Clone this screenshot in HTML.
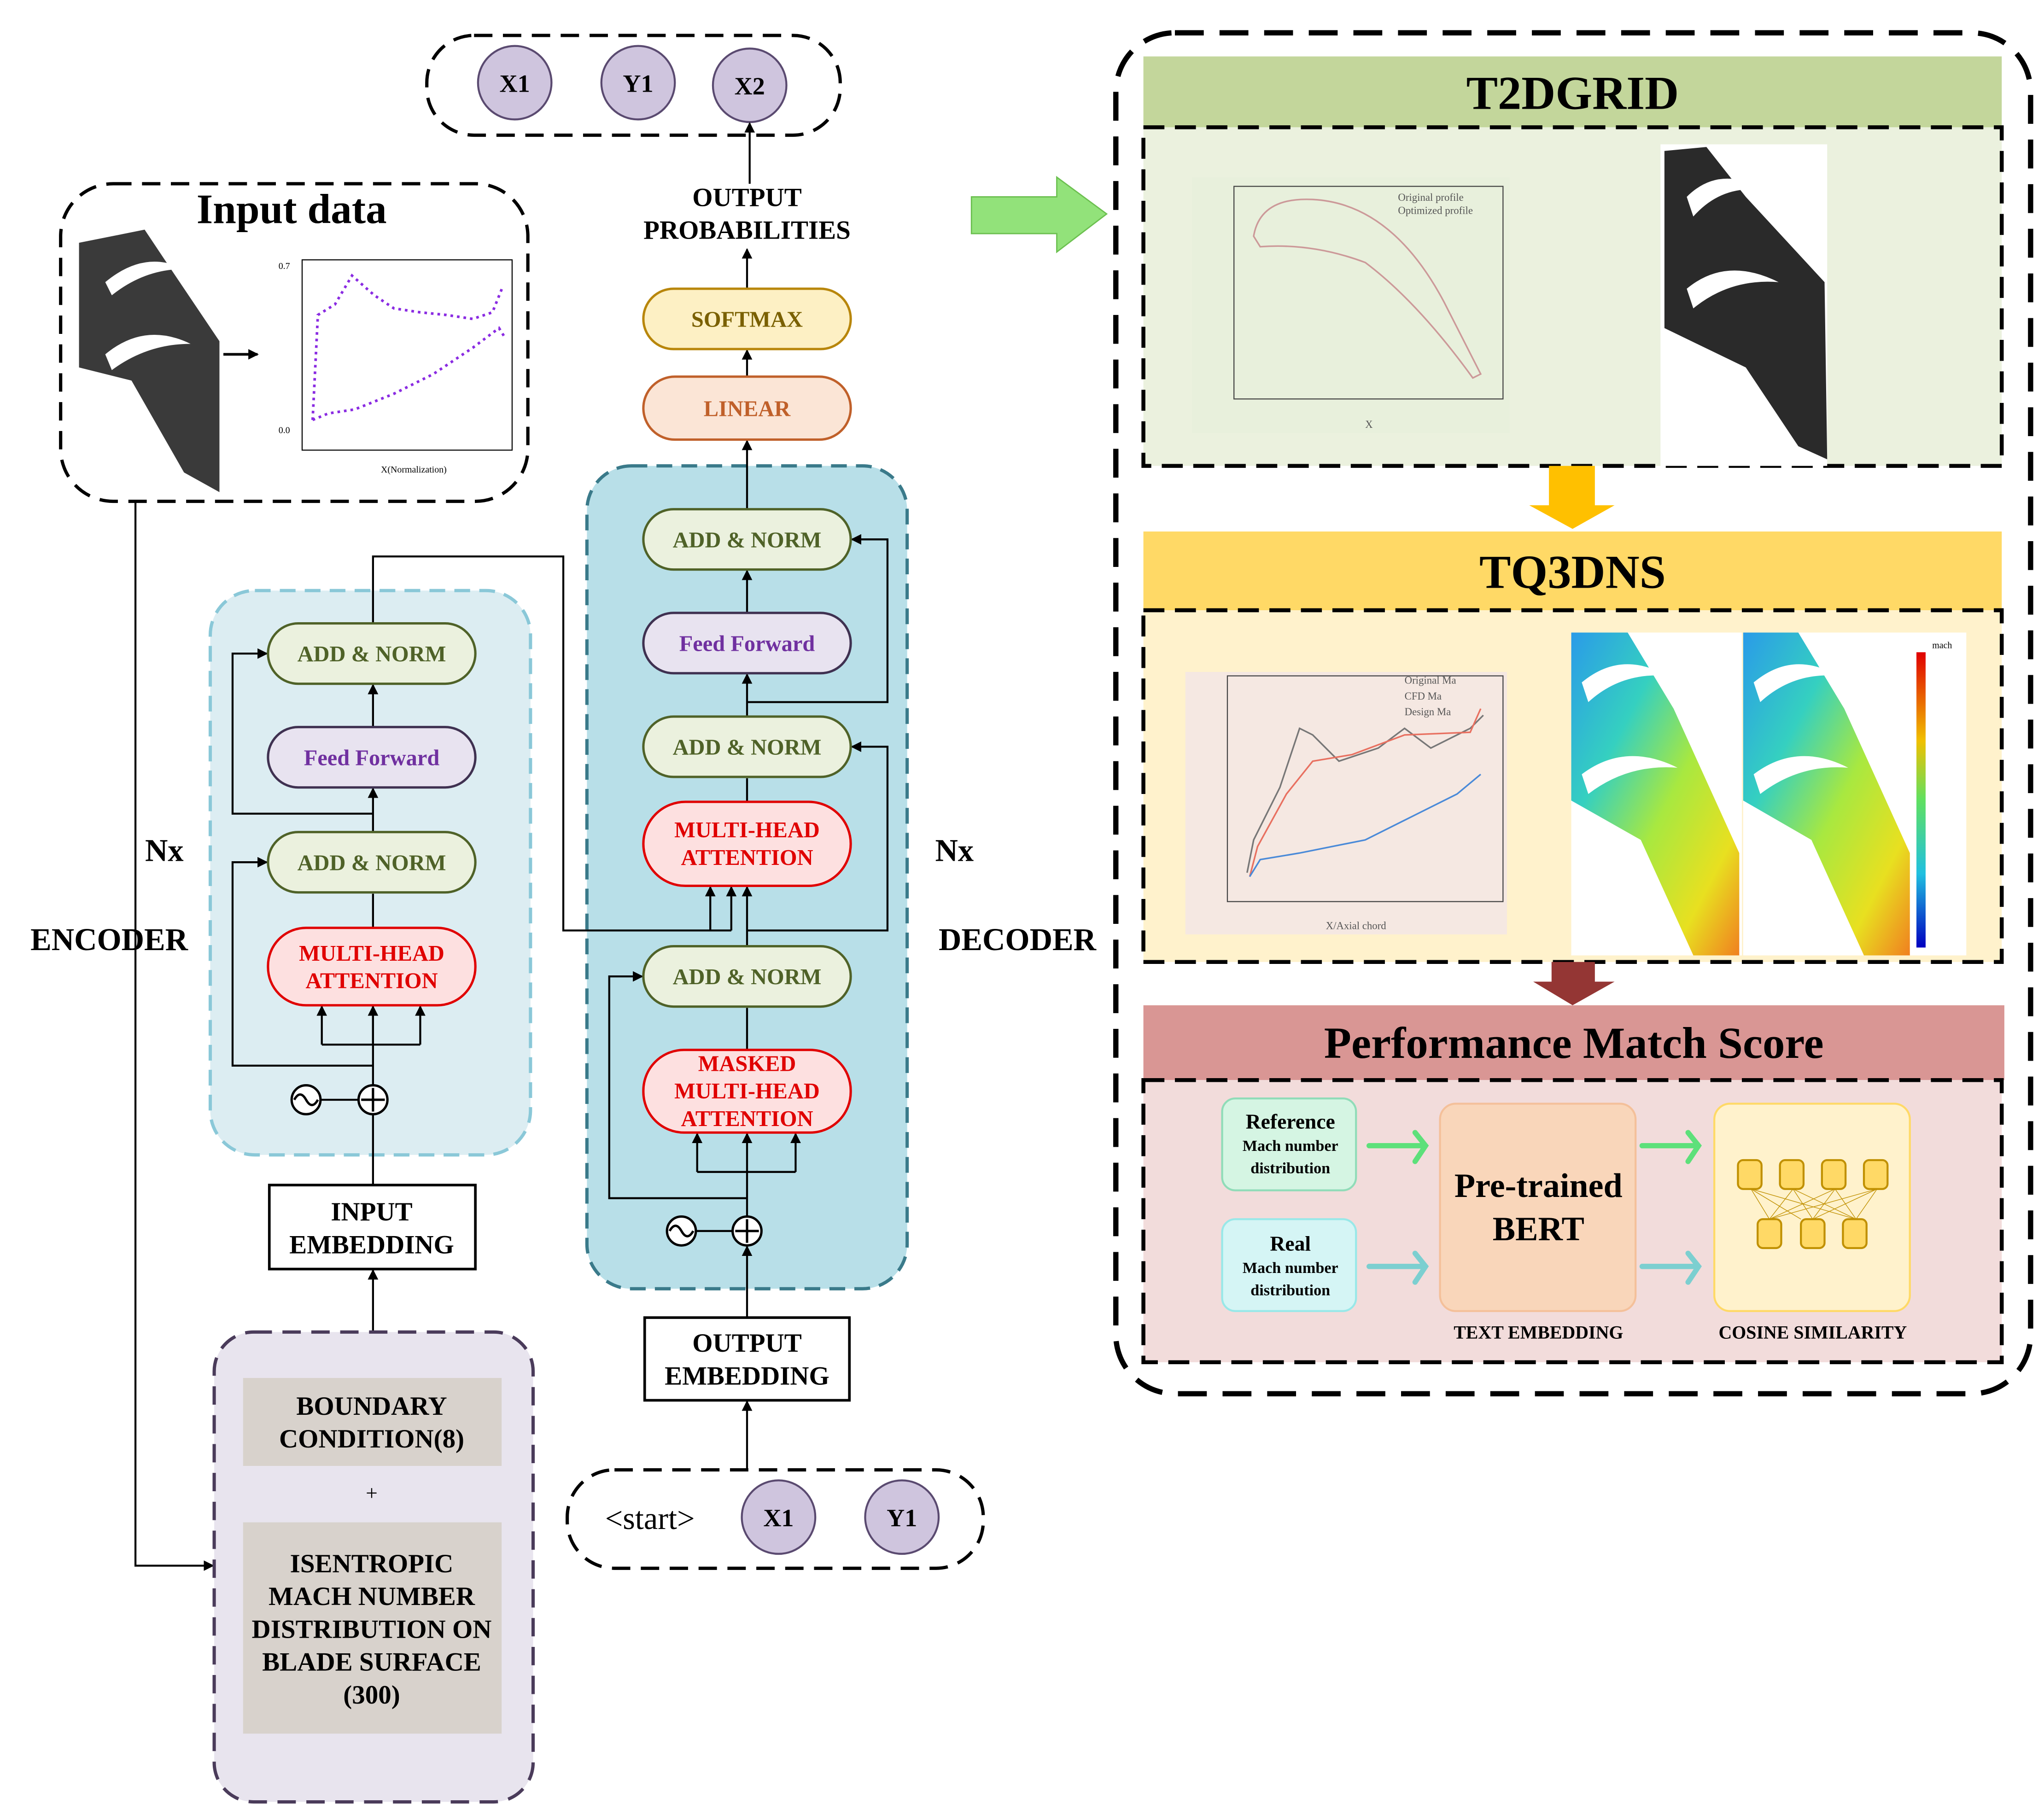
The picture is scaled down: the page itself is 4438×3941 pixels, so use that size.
<!DOCTYPE html>
<html><head><meta charset="utf-8"><style>
html,body{margin:0;padding:0;background:#fff;}
svg{display:block;}
text{font-family:"Liberation Serif",serif;}
</style></head><body>
<svg width="4438" height="3941" viewBox="0 0 1557 1383" xmlns="http://www.w3.org/2000/svg">
<defs>
<marker id="ar" markerWidth="8" markerHeight="8" refX="7" refY="4" orient="auto" markerUnits="userSpaceOnUse"><path d="M0,0 L8,4 L0,8 z" fill="#000"/></marker>
<linearGradient id="cf" x1="0" y1="0" x2="1" y2="1"><stop offset="0" stop-color="#2a9be8"/><stop offset="0.3" stop-color="#35d0c0"/><stop offset="0.55" stop-color="#a8e840"/><stop offset="0.8" stop-color="#e8e020"/><stop offset="1" stop-color="#f08020"/></linearGradient>
<linearGradient id="cb" x1="0" y1="0" x2="0" y2="1"><stop offset="0" stop-color="#e00000"/><stop offset="0.3" stop-color="#f0c000"/><stop offset="0.5" stop-color="#60e060"/><stop offset="0.75" stop-color="#20c0e0"/><stop offset="1" stop-color="#0000c0"/></linearGradient>
</defs>
<rect width="1557" height="1383" fill="#fff"/>

<!-- top output box -->
<rect x="325" y="27" width="315" height="76" rx="36" fill="#fff" stroke="#000" stroke-width="2.5" stroke-dasharray="14,8"/>
<g fill="#cfc5de" stroke="#5a4a70" stroke-width="1.5">
<circle cx="392" cy="63" r="28"/><circle cx="486" cy="63" r="28"/><circle cx="571" cy="65" r="28"/></g>
<g font-weight="bold" font-size="19" text-anchor="middle"><text x="392" y="70">X1</text><text x="486" y="70">Y1</text><text x="571" y="72">X2</text></g>
<line x1="571" y1="140" x2="571" y2="94" stroke="#000" stroke-width="1.5" marker-end="url(#ar)"/>
<g font-weight="bold" font-size="20" text-anchor="middle"><text x="569" y="157">OUTPUT</text><text x="569" y="182">PROBABILITIES</text></g>
<line x1="569" y1="220" x2="569" y2="190" stroke="#000" stroke-width="1.5" marker-end="url(#ar)"/>

<!-- input data box -->
<rect x="46" y="140" width="356" height="242" rx="40" fill="#fff" stroke="#000" stroke-width="2.5" stroke-dasharray="14,8"/>
<text x="222" y="170" font-size="32" font-weight="bold" text-anchor="middle">Input data</text>
<polygon points="60,185 110,175 130,205 167,260 167,375 140,360 100,290 60,280" fill="#3a3a3a"/>
<path d="M80,215 Q110,190 140,205 Q110,205 85,225 z" fill="#fff"/>
<path d="M80,270 Q110,245 145,262 Q112,262 85,282 z" fill="#fff"/>
<line x1="170" y1="270" x2="196" y2="270" stroke="#000" stroke-width="2" marker-end="url(#ar)"/>
<g stroke="#000" stroke-width="0.8" fill="none"><rect x="230" y="198" width="160" height="145"/></g>
<g font-size="7" font-family="Liberation Sans,sans-serif"><text x="290" y="360">X(Normalization)</text><text x="212" y="205">0.7</text><text x="212" y="330">0.0</text></g>
<polyline points="238,320 242,240 255,232 268,210 285,225 300,235 320,238 340,240 360,243 375,238 383,218" fill="none" stroke="#8a2be2" stroke-width="2" stroke-dasharray="2,3"/>
<polyline points="238,320 250,315 270,312 300,300 330,285 360,265 380,250 385,258" fill="none" stroke="#8a2be2" stroke-width="2" stroke-dasharray="2,3"/>

<!-- encoder panel -->
<rect x="160" y="450" width="244" height="430" rx="34" fill="#dcedf2" stroke="#8ac8d8" stroke-width="2.5" stroke-dasharray="12,7"/>
<!-- decoder panel -->
<rect x="447" y="355" width="244" height="627" rx="34" fill="#b8dfe8" stroke="#3a7a8a" stroke-width="2.5" stroke-dasharray="12,7"/>

<!-- connectors encoder -->
<g stroke="#000" stroke-width="1.5" fill="none">
<line x1="284" y1="1015" x2="284" y2="968" marker-end="url(#ar)"/>
<line x1="284" y1="903" x2="284" y2="849"/>
<line x1="244" y1="838" x2="273" y2="838"/>
<line x1="284" y1="827" x2="284" y2="766"/>
<polyline points="245,796 320,796"/>
<line x1="245" y1="796" x2="245" y2="767" marker-end="url(#ar)"/>
<line x1="320" y1="796" x2="320" y2="767" marker-end="url(#ar)"/>
<line x1="284" y1="796" x2="284" y2="767" marker-end="url(#ar)"/>
<polyline points="284,812 177,812 177,657 203,657" marker-end="url(#ar)"/>
<line x1="284" y1="707" x2="284" y2="681"/>
<line x1="284" y1="634" x2="284" y2="601" marker-end="url(#ar)"/>
<line x1="284" y1="554" x2="284" y2="522" marker-end="url(#ar)"/>
<polyline points="284,620 177,620 177,498 203,498" marker-end="url(#ar)"/>
<polyline points="284,475 284,424 429,424 429,709 557,709"/>
<line x1="541" y1="709" x2="541" y2="676" marker-end="url(#ar)"/>
<line x1="557" y1="709" x2="557" y2="676" marker-end="url(#ar)"/>
<!-- decoder -->
<line x1="569" y1="1120" x2="569" y2="1068" marker-end="url(#ar)"/>
<line x1="569" y1="1004" x2="569" y2="950" marker-end="url(#ar)"/>
<line x1="530" y1="938" x2="558" y2="938"/>
<line x1="569" y1="927" x2="569" y2="864" marker-end="url(#ar)"/>
<polyline points="531,893 606,893"/>
<line x1="531" y1="893" x2="531" y2="864" marker-end="url(#ar)"/>
<line x1="606" y1="893" x2="606" y2="864" marker-end="url(#ar)"/>
<polyline points="569,913 464,913 464,744 489,744" marker-end="url(#ar)"/>
<line x1="569" y1="800" x2="569" y2="768"/>
<line x1="569" y1="721" x2="569" y2="676" marker-end="url(#ar)"/>
<polyline points="569,709 676,709 676,569 649,569" marker-end="url(#ar)"/>
<line x1="569" y1="611" x2="569" y2="593"/>
<line x1="569" y1="546" x2="569" y2="514" marker-end="url(#ar)"/>
<line x1="569" y1="467" x2="569" y2="435" marker-end="url(#ar)"/>
<polyline points="569,535 676,535 676,411 649,411" marker-end="url(#ar)"/>
<line x1="569" y1="388" x2="569" y2="336" marker-end="url(#ar)"/>
<line x1="569" y1="287" x2="569" y2="267" marker-end="url(#ar)"/>
<polyline points="103,382 103,1193 162,1193" marker-end="url(#ar)"/>
</g>
<!-- sine/plus -->
<g fill="#fff" stroke="#000" stroke-width="1.8">
<circle cx="233" cy="838" r="11"/><circle cx="284" cy="838" r="11"/>
<circle cx="519" cy="938" r="11"/><circle cx="569" cy="938" r="11"/></g>
<g stroke="#000" stroke-width="1.8" fill="none">
<path d="M224,838 q4.5,-8 9,0 q4.5,8 9,0"/><path d="M284,829 v18 M275,838 h18"/>
<path d="M510,938 q4.5,-8 9,0 q4.5,8 9,0"/><path d="M569,929 v18 M560,938 h18"/></g>

<!-- nodes -->
<g stroke-width="1.8">
<rect x="204" y="475" width="158" height="46" rx="23" fill="#ebf1de" stroke="#4f6228"/>
<rect x="204" y="634" width="158" height="46" rx="23" fill="#ebf1de" stroke="#4f6228"/>
<rect x="204" y="554" width="158" height="46" rx="23" fill="#e8e3f0" stroke="#3f3151"/>
<rect x="204" y="707" width="158" height="59" rx="29" fill="#fde0e0" stroke="#e00000"/>
<rect x="490" y="388" width="158" height="46" rx="23" fill="#ebf1de" stroke="#4f6228"/>
<rect x="490" y="546" width="158" height="46" rx="23" fill="#ebf1de" stroke="#4f6228"/>
<rect x="490" y="721" width="158" height="46" rx="23" fill="#ebf1de" stroke="#4f6228"/>
<rect x="490" y="467" width="158" height="46" rx="23" fill="#e8e3f0" stroke="#3f3151"/>
<rect x="490" y="611" width="158" height="64" rx="32" fill="#fde0e0" stroke="#e00000"/>
<rect x="490" y="800" width="158" height="63" rx="31" fill="#fde0e0" stroke="#e00000"/>
<rect x="490" y="287" width="158" height="48" rx="24" fill="#fbe5d6" stroke="#c0602a"/>
<rect x="490" y="220" width="158" height="46" rx="23" fill="#fdf0c4" stroke="#b8860b"/>
</g>
<g font-weight="bold" font-size="17" text-anchor="middle">
<g fill="#4f6228"><text x="283" y="504">ADD &amp; NORM</text><text x="283" y="663">ADD &amp; NORM</text><text x="569" y="417">ADD &amp; NORM</text><text x="569" y="575">ADD &amp; NORM</text><text x="569" y="750">ADD &amp; NORM</text></g>
<g fill="#7030a0"><text x="283" y="583">Feed Forward</text><text x="569" y="496">Feed Forward</text></g>
<g fill="#e00000"><text x="283" y="732">MULTI-HEAD</text><text x="283" y="753">ATTENTION</text>
<text x="569" y="638">MULTI-HEAD</text><text x="569" y="659">ATTENTION</text>
<text x="569" y="816">MASKED</text><text x="569" y="837">MULTI-HEAD</text><text x="569" y="858">ATTENTION</text></g>
<text x="569" y="317" fill="#c0602a">LINEAR</text><text x="569" y="249" fill="#7a6000">SOFTMAX</text>
</g>

<!-- embeddings -->
<rect x="205" y="903" width="157" height="64" fill="#fff" stroke="#000" stroke-width="2"/>
<rect x="491" y="1004" width="156" height="63" fill="#fff" stroke="#000" stroke-width="2"/>
<g font-weight="bold" font-size="20" text-anchor="middle">
<text x="283" y="930">INPUT</text><text x="283" y="955">EMBEDDING</text>
<text x="569" y="1030">OUTPUT</text><text x="569" y="1055">EMBEDDING</text>
<text x="125" y="656" font-size="24">Nx</text><text x="83" y="724" font-size="24">ENCODER</text>
<text x="727" y="656" font-size="24">Nx</text><text x="775" y="724" font-size="24">DECODER</text>
</g>

<!-- bottom-left input box -->
<rect x="163" y="1015" width="243" height="358" rx="30" fill="#e8e4ee" stroke="#4a3b5a" stroke-width="2.5" stroke-dasharray="14,8"/>
<rect x="185" y="1050" width="197" height="67" fill="#d8d2cc"/>
<rect x="185" y="1160" width="197" height="161" fill="#d8d2cc"/>
<g font-weight="bold" font-size="20" text-anchor="middle">
<text x="283" y="1078">BOUNDARY</text><text x="283" y="1103">CONDITION(8)</text>
<text x="283" y="1143" font-weight="normal" font-size="16">+</text>
<text x="283" y="1198">ISENTROPIC</text><text x="283" y="1223">MACH NUMBER</text><text x="283" y="1248">DISTRIBUTION ON</text><text x="283" y="1273">BLADE SURFACE</text><text x="283" y="1298">(300)</text>
</g>

<!-- start box -->
<rect x="432" y="1120" width="317" height="75" rx="36" fill="#fff" stroke="#000" stroke-width="2.5" stroke-dasharray="14,8"/>
<text x="495" y="1165" font-size="24" text-anchor="middle">&lt;start&gt;</text>
<g fill="#cfc5de" stroke="#5a4a70" stroke-width="1.5"><circle cx="593" cy="1156" r="28"/><circle cx="687" cy="1156" r="28"/></g>
<g font-weight="bold" font-size="19" text-anchor="middle"><text x="593" y="1163">X1</text><text x="687" y="1163">Y1</text></g>

<!-- green arrow -->
<polygon points="740,150 805,150 805,135 843,163 805,192 805,178 740,178" fill="#92e27a" stroke="#6cc050" stroke-width="1"/>

<!-- right big box -->
<rect x="850" y="25" width="697" height="1037" rx="45" fill="#fff" stroke="#000" stroke-width="4" stroke-dasharray="22,12"/>
<!-- T2DGRID -->
<rect x="871" y="43" width="654" height="54" fill="#c3d69b"/>
<text x="1198" y="83" font-size="36" font-weight="bold" text-anchor="middle">T2DGRID</text>
<rect x="871" y="97" width="654" height="258" fill="#ebf1de" stroke="#000" stroke-width="3" stroke-dasharray="16,8"/>
<rect x="908" y="135" width="242" height="195" fill="#e8f0dc"/>
<rect x="940" y="142" width="205" height="162" fill="none" stroke="#444" stroke-width="0.8"/>
<path d="M955,180 Q960,150 1000,152 Q1060,155 1100,230 L1128,285 L1122,288 Q1080,230 1040,200 Q1000,185 960,188 z" fill="none" stroke="#c99" stroke-width="1.2"/>
<g font-size="8" fill="#555"><text x="1065" y="153">Original profile</text><text x="1065" y="163">Optimized profile</text><text x="1040" y="326">X</text></g>
<rect x="1265" y="110" width="127" height="245" fill="#fff"/>
<polygon points="1268,115 1300,112 1330,150 1390,215 1392,350 1370,340 1330,280 1268,250" fill="#2a2a2a"/>
<path d="M1285,150 Q1310,125 1345,145 Q1312,140 1290,165 z" fill="#fff"/>
<path d="M1285,220 Q1315,195 1355,215 Q1318,212 1290,235 z" fill="#fff"/>
<!-- yellow arrow -->
<polygon points="1180,355 1215,355 1215,385 1230,385 1198,403 1165,385 1180,385" fill="#ffc000"/>
<!-- TQ3DNS -->
<rect x="871" y="405" width="654" height="60" fill="#ffd966"/>
<text x="1198" y="448" font-size="36" font-weight="bold" text-anchor="middle">TQ3DNS</text>
<rect x="871" y="465" width="654" height="268" fill="#fff2cc" stroke="#000" stroke-width="3" stroke-dasharray="16,8"/>
<rect x="903" y="512" width="245" height="200" fill="#f5e8e2"/>
<rect x="935" y="515" width="210" height="172" fill="none" stroke="#444" stroke-width="0.8"/>
<polyline points="950,665 955,640 975,600 990,555 1000,560 1020,580 1050,570 1070,555 1090,570 1120,555 1130,545" fill="none" stroke="#777" stroke-width="1.2"/>
<polyline points="952,668 958,645 980,605 1000,580 1030,575 1070,560 1120,558 1128,540" fill="none" stroke="#e87060" stroke-width="1.2"/>
<polyline points="952,668 960,655 990,650 1040,640 1080,620 1110,605 1128,590" fill="none" stroke="#4a8ad8" stroke-width="1.2"/>
<g font-size="8" fill="#555"><text x="1070" y="521">Original Ma</text><text x="1070" y="533">CFD Ma</text><text x="1070" y="545">Design Ma</text><text x="1010" y="708">X/Axial chord</text></g>
<rect x="1197" y="482" width="130" height="246" fill="#fff"/>
<rect x="1328" y="482" width="170" height="246" fill="#fff"/>
<polygon points="1197,482 1240,482 1275,540 1325,650 1325,728 1290,728 1250,640 1197,610" fill="url(#cf)"/>
<polygon points="1328,482 1370,482 1405,540 1455,650 1455,728 1420,728 1380,640 1328,610" fill="url(#cf)"/>
<g fill="#fff"><path d="M1205,520 Q1235,495 1270,515 Q1235,512 1210,535 z"/><path d="M1205,590 Q1238,565 1278,585 Q1240,582 1210,605 z"/>
<path d="M1336,520 Q1366,495 1400,515 Q1366,512 1341,535 z"/><path d="M1336,590 Q1369,565 1408,585 Q1371,582 1341,605 z"/></g>
<rect x="1460" y="497" width="7" height="225" fill="url(#cb)"/>
<text x="1472" y="494" font-size="7" font-family="Liberation Sans,sans-serif">mach</text>
<!-- dark red arrow -->
<polygon points="1182,733 1215,733 1215,748 1230,748 1198,766 1168,748 1182,748" fill="#943634"/>
<!-- Performance -->
<rect x="871" y="766" width="656" height="57" fill="#d99694"/>
<text x="1199" y="806" font-size="34" font-weight="bold" text-anchor="middle">Performance Match Score</text>
<rect x="871" y="823" width="654" height="215" fill="#f2dcdb" stroke="#000" stroke-width="3" stroke-dasharray="16,8"/>
<rect x="931" y="837" width="102" height="70" rx="10" fill="#d5f5e3" stroke="#90dcb8" stroke-width="1.5"/>
<rect x="931" y="929" width="102" height="70" rx="10" fill="#d5f5f5" stroke="#98e8e8" stroke-width="1.5"/>
<rect x="1097" y="841" width="149" height="158" rx="12" fill="#f9d6ba" stroke="#f4c09a" stroke-width="1.5"/>
<rect x="1306" y="841" width="149" height="158" rx="12" fill="#fff2cc" stroke="#ffd966" stroke-width="1.5"/>
<g stroke="#c09000" stroke-width="0.5">
<line x1="1334" y1="906" x2="1372" y2="929"/><line x1="1334" y1="906" x2="1414" y2="929"/><line x1="1334" y1="906" x2="1348" y2="929"/>
<line x1="1366" y1="906" x2="1348" y2="929"/><line x1="1366" y1="906" x2="1414" y2="929"/><line x1="1366" y1="906" x2="1381" y2="929"/>
<line x1="1398" y1="906" x2="1348" y2="929"/><line x1="1398" y1="906" x2="1381" y2="929"/><line x1="1398" y1="906" x2="1414" y2="929"/>
<line x1="1430" y1="906" x2="1348" y2="929"/><line x1="1430" y1="906" x2="1381" y2="929"/><line x1="1430" y1="906" x2="1414" y2="929"/></g>
<g fill="#ffd966" stroke="#c09000" stroke-width="1.5">
<rect x="1324" y="884" width="18" height="22" rx="4"/><rect x="1356" y="884" width="18" height="22" rx="4"/><rect x="1388" y="884" width="18" height="22" rx="4"/><rect x="1420" y="884" width="18" height="22" rx="4"/>
<rect x="1339" y="929" width="18" height="22" rx="4"/><rect x="1372" y="929" width="18" height="22" rx="4"/><rect x="1404" y="929" width="18" height="22" rx="4"/></g>
<g stroke-width="4" fill="none" stroke-linecap="round">
<path d="M1043,873 H1086 M1078,863 L1086,873 L1078,885" stroke="#5de07a"/>
<path d="M1251,873 H1294 M1286,863 L1294,873 L1286,885" stroke="#5de07a"/>
<path d="M1043,965 H1086 M1078,955 L1086,965 L1078,977" stroke="#7ccfd0"/>
<path d="M1251,965 H1294 M1286,955 L1294,965 L1286,977" stroke="#7ccfd0"/></g>
<g font-weight="bold" text-anchor="middle">
<text x="983" y="860" font-size="16">Reference</text><text x="983" y="877" font-size="12">Mach number</text><text x="983" y="894" font-size="12">distribution</text>
<text x="983" y="953" font-size="16">Real</text><text x="983" y="970" font-size="12">Mach number</text><text x="983" y="987" font-size="12">distribution</text>
<text x="1172" y="912" font-size="26">Pre-trained</text><text x="1172" y="945" font-size="26">BERT</text>
<text x="1172" y="1020" font-size="14">TEXT EMBEDDING</text><text x="1381" y="1020" font-size="14">COSINE SIMILARITY</text>
</g>
</svg>
</body></html>
